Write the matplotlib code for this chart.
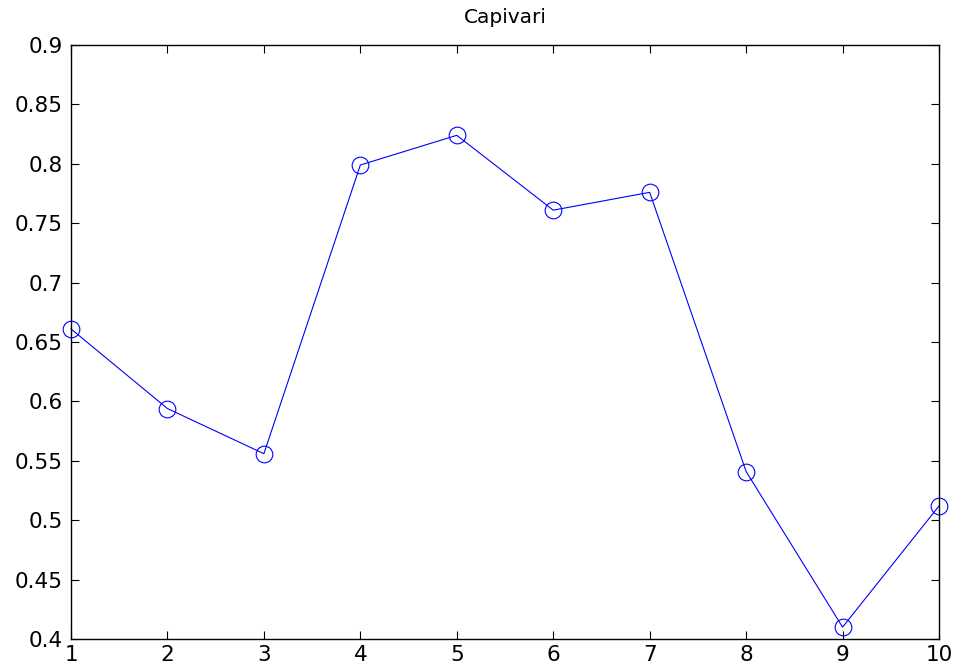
import matplotlib
matplotlib.use("Agg")
import matplotlib.pyplot as plt
import numpy as np

# series for Capivari
x_vals = [1, 2, 3, 4, 5, 6, 7, 8, 9, 10]
y_vals = [0.661, 0.594, 0.556, 0.799, 0.824, 0.761, 0.776, 0.541, 0.410, 0.512]
y_ticks = [0.4, 0.45, 0.5, 0.55, 0.6, 0.65, 0.7, 0.75, 0.8, 0.85, 0.9]
y_tick_labels = ["0.4", "0.45", "0.5", "0.55", "0.6", "0.65", "0.7", "0.75", "0.8", "0.85", "0.9"]

plt.rcParams['font.family'] = ['DejaVu Sans']

fig = plt.figure(figsize=(9.57, 6.69), dpi=100)
ax = fig.add_axes([0.0742, 0.0448, 0.9070, 0.8879])

ax.plot(x_vals, y_vals, color=(0, 0, 1), linewidth=0.8,
        marker='o', markersize=12, markerfacecolor='none',
        markeredgecolor=(0, 0, 1), markeredgewidth=0.8, clip_on=False)

ax.set_xlim(1, 10)
ax.set_ylim(0.4, 0.9)
ax.set_xticks(x_vals)
ax.set_xticklabels([str(v) for v in x_vals])
ax.set_yticks(y_ticks)
ax.set_yticklabels(y_tick_labels)

ax.tick_params(direction='in', length=6, width=0.8, top=True, right=True,
               labelsize=15.5, colors='black')
ax.tick_params(axis='y', pad=6)
ax.tick_params(axis='x', pad=4)
for s in ax.spines.values():
    s.set_linewidth(1.0)
    s.set_color('black')

ax.set_title("Capivari", fontsize=14.5, pad=16)

fig.savefig("out.png", dpi=100)
